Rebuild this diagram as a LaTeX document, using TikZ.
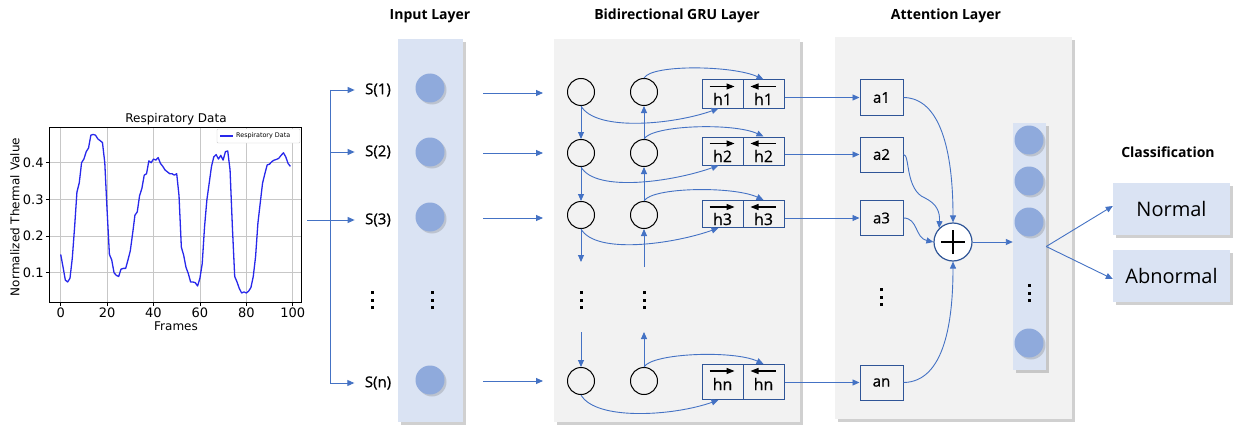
\documentclass[tikz,border=0pt]{standalone}
\usepackage{fontspec}
\setmainfont{Open Sans}
\newfontfamily\pltfont{DejaVu Sans}
\newfontfamily\medfont{Open Sans}[FakeBold=0.7]
\usetikzlibrary{arrows.meta,shadows,calc}
\definecolor{lblue}{RGB}{218,227,243}
\definecolor{dblue}{RGB}{143,170,220}
\definecolor{lnblue}{RGB}{68,114,196}
\definecolor{bxblue}{RGB}{47,85,151}
\definecolor{pgray}{RGB}{242,242,242}
\definecolor{pltblue}{RGB}{40,40,235}
\newcommand{\myvdots}{\vbox{\hrule width 3pt height 3pt\vskip 4.5pt\hrule width 3pt height 3pt\vskip 4.5pt\hrule width 3pt height 3pt}}
\tikzset{
  conn/.style={draw=lnblue, line width=0.9pt, -{Triangle[length=7pt,width=6pt]}},
  plainln/.style={draw=lnblue, line width=0.9pt},
  panel/.style={fill=#1, draw=none, inner sep=0pt,
    drop shadow={shadow xshift=3pt, shadow yshift=-3pt, opacity=0.3, fill=black!60}},
  dotc/.style={circle, fill=dblue, draw=none, minimum size=29pt, inner sep=0pt,
    drop shadow={shadow xshift=2pt, shadow yshift=-2pt, opacity=0.25, fill=black!60}},
  grucirc/.style={circle, draw=black, line width=1pt, fill=pgray, minimum size=27pt, inner sep=0pt},
  hbox/.style={draw=bxblue, line width=1pt, minimum width=41pt, minimum height=#1, inner sep=0pt},
  abox/.style={draw=bxblue, line width=1pt, minimum width=43pt, minimum height=35pt, inner sep=0pt,
    font=\medfont\fontsize{15}{17}\selectfont},
  htext/.style={inner sep=0pt, font=\medfont\fontsize{16}{18}\selectfont},
  harrow/.style={line width=1.1pt, -{Triangle[length=8pt,width=6pt]}},
  title/.style={font=\fontsize{14}{16}\selectfont\bfseries},
  slabel/.style={font=\medfont\fontsize{15}{17}\selectfont},
  vd/.style={inner sep=0pt},
  clsbox/.style={fill=lblue, minimum width=117pt, minimum height=52pt, inner sep=0pt,
    font=\fontsize{20}{22}\selectfont,
    drop shadow={shadow xshift=3pt, shadow yshift=-3pt, opacity=0.3, fill=black!60}},
  gridln/.style={draw=black!22, line width=0.8pt},
  pltlbl/.style={font=\pltfont\fontsize{13}{15}\selectfont, inner sep=2pt},
  plotline/.style={draw=pltblue, line width=1.3pt, line join=round},
  plusnode/.style={circle, draw=bxblue, line width=1.2pt, fill=white, minimum size=38pt, inner sep=0pt,
    path picture={
      \draw[black, line width=1.4pt]
        ([xshift=-12pt]path picture bounding box.center) -- ([xshift=12pt]path picture bounding box.center)
        ([yshift=-12pt]path picture bounding box.center) -- ([yshift=12pt]path picture bounding box.center);
    }},
}
\begin{document}
\begin{tikzpicture}[x=1pt, y=-1pt]
\useasboundingbox (0,0) rectangle (1235,428);
\fill[white] (0,0) rectangle (1235,428);

% ---------------- plot ----------------
\begin{scope}[x=2.32pt, y=367pt, shift={(60.7pt,-309.5pt)}]
  \foreach \f in {0,20,...,100} \draw[gridln] (\f,0.0204) -- (\f,0.497);
  \foreach \v in {0.1,0.2,0.3,0.4} \draw[gridln] (-4.7,\v) -- (103.9,\v);
  \draw[plotline] plot coordinates {(0,0.15) (1,0.116) (2,0.08) (3,0.075) (4,0.085) (5,0.14) (6,0.225) (7,0.32) (8,0.345) (9,0.4) (10,0.41) (11,0.43) (12,0.44) (13,0.475) (14,0.477) (15,0.475) (16,0.465) (17,0.46) (18,0.455) (19,0.40) (20,0.27) (21,0.15) (22,0.135) (23,0.10) (24,0.093) (25,0.09) (26,0.11) (27,0.112) (28,0.112) (29,0.135) (30,0.16) (31,0.207) (32,0.257) (33,0.266) (34,0.31) (35,0.33) (36,0.366) (37,0.37) (38,0.405) (39,0.40) (40,0.41) (41,0.407) (42,0.414) (43,0.398) (44,0.39) (45,0.38) (46,0.375) (47,0.37) (48,0.37) (49,0.366) (50,0.37) (51,0.31) (52,0.17) (53,0.148) (54,0.115) (55,0.098) (56,0.075) (57,0.075) (58,0.073) (59,0.064) (60,0.085) (61,0.125) (62,0.225) (63,0.298) (64,0.344) (65,0.39) (66,0.416) (67,0.422) (68,0.41) (69,0.42) (70,0.407) (71,0.43) (72,0.432) (73,0.38) (74,0.225) (75,0.09) (76,0.075) (77,0.057) (78,0.045) (79,0.048) (80,0.045) (81,0.05) (82,0.06) (83,0.09) (84,0.144) (85,0.235) (86,0.29) (87,0.344) (88,0.37) (89,0.394) (90,0.396) (91,0.403) (92,0.407) (93,0.409) (94,0.412) (95,0.42) (96,0.427) (97,0.416) (98,0.398) (99,0.39)};
  \draw[line width=0.9pt] (-4.7,0.0204) rectangle (103.9,0.497);
  \foreach \f in {0,20,...,100} {
    \draw[line width=0.8pt] (\f,0.0204) -- ++(0pt,-4pt);
    \node[pltlbl, anchor=north] (xt\f) at ([yshift=-4pt]\f,0.0204) {\f};
  }
  \foreach \v in {0.1,0.2,0.3,0.4} {
    \draw[line width=0.8pt] (-4.7,\v) -- ++(-4pt,0pt);
    \node[pltlbl, anchor=east] (yt\v) at ([xshift=-4pt]-4.7,\v) {\v};
  }
\end{scope}
\node[font=\pltfont\fontsize{12}{14}\selectfont] (ptitle) at (176,119) {Respiratory Data};
\node[font=\pltfont\fontsize{12}{14}\selectfont] (pxlab) at (176,326) {Frames};
\node[font=\pltfont\fontsize{12}{14}\selectfont, rotate=90] (pylab) at (15,217) {Normalized Thermal Value};
\draw[black!20, fill=white, rounded corners=1pt] (217,129) rectangle (300,143);
\draw[plotline] (220,136) -- (233,136);
\node[font=\pltfont\fontsize{6.4}{7}\selectfont, anchor=west, inner sep=0pt] (leg) at (236,136) {Respiratory Data};

% ---------------- titles ----------------
\node[title] (t1) at (430,16) {Input Layer};
\node[title] (t2) at (677,16) {Bidirectional GRU Layer};
\node[title] (t3) at (946,16) {Attention Layer};
\node[title] (t4) at (1168,152) {Classification};

% ---------------- panels ----------------
\node[panel=lblue, minimum width=65pt, minimum height=383pt] (inpanel) at (430.5,230.5) {};
\node[panel=pgray, minimum width=246pt, minimum height=383pt] (grupanel) at (677,230.5) {};
\node[panel=pgray, minimum width=237pt, minimum height=382pt] (attpanel) at (953.5,228) {};
\node[panel=lblue, minimum width=33pt, minimum height=247pt] (outpanel) at (1029.5,246.5) {};

% ---------------- input side ----------------
\node[slabel] (s1) at (378,90) {S(1)};
\node[slabel] (s2) at (378,152) {S(2)};
\node[slabel] (s3) at (378,220) {S(3)};
\node[slabel] (sn) at (378,383) {S(n)};
\node[vd] (sd) at (372,300) {\myvdots};
\coordinate (pj) at (307,220);
\coordinate (bj) at (330,220);
\draw[plainln] (pj) -- (bj);
\draw[plainln] (bj |- s1) -- (bj |- sn);
\foreach \r in {1,2,3,n} \draw[conn, shorten >=7pt] (bj |- s\r.west) -- (s\r.west);

\node[dotc] (i1) at (430,88) {};
\node[dotc] (i2) at (430,152) {};
\node[dotc] (i3) at (430,217) {};
\node[dotc] (in) at (430,380) {};
\node[vd] (id) at (432,300) {\myvdots};

\foreach \r/\y in {1/93,2/153,3/218,n/381} {
  \coordinate (ia\r) at (483,\y);
  \coordinate (ib\r) at (543,\y);
  \draw[conn] (ia\r) -- (ib\r);
}

% ---------------- GRU ----------------
\foreach \r/\y in {1/92,2/153,3/215,n/381} {
  \node[grucirc] (c\r1) at (581,\y) {};
  \node[grucirc] (c\r2) at (644,\y) {};
}
\foreach \r/\y/\hh/\dt in {1/94/28pt/5,2/151/28pt/5,3/214/27pt/5,n/382/35pt/2} {
  \node[hbox=\hh] (hf\r) at (722.5,\y) {};
  \node[hbox=\hh] (hb\r) at (763.5,\y) {};
  \node[htext] (hft\r) at ($(hf\r.center)+(0,\dt)$) {h\r};
  \node[htext] (hbt\r) at ($(hb\r.center)+(0,\dt)$) {h\r};
  \draw[harrow] ($(hf\r.north)+(-13,7)$) -- ($(hf\r.north)+(12,7)$);
  \draw[harrow] ($(hb\r.north)+(12,7)$) -- ($(hb\r.north)+(-13,7)$);
}
\node[vd] (gd1) at (581,300) {\myvdots};
\node[vd] (gd2) at (644,300) {\myvdots};
\coordinate (g1a) at (581,262);
\coordinate (g1b) at (581,332);
\coordinate (g2a) at (644,267);
\coordinate (g2b) at (644,332);
\draw[conn] (c11.south) -- (c21.north);
\draw[conn] (c21.south) -- (c31.north);
\draw[conn] (c31.south) -- (g1a);
\draw[conn] (g1b) -- (cn1.north);
\draw[conn] (c22.north) -- (c12.south);
\draw[conn] (c32.north) -- (c22.south);
\draw[conn] (g2a) -- (c32.south);
\draw[conn] (cn2.north) -- (g2b);
\foreach \r in {1,2,3,n} {
  \draw[conn] (c\r1.south) .. controls +(15,26) and +(-45,16) .. ([xshift=-4pt]hf\r.south);
  \draw[conn] (c\r2.north) .. controls +(8,-14) and +(-30,-14) .. (hb\r.north);
}

% ---------------- attention ----------------
\node[abox] (a1) at (881.5,97.5) {a1};
\node[abox] (a2) at (881.5,154.5) {a2};
\node[abox] (a3) at (881.5,218) {a3};
\node[abox] (an) at (881.5,382.5) {an};
\node[vd] (ad) at (881,297) {\myvdots};
\foreach \r in {1,2,3,n} \draw[conn] (hb\r.east |- a\r.west) -- (a\r.west);

\node[plusnode] (plus) at (953,242) {};
\draw[conn] (a1.east) .. controls (940,98) and (953,150) .. (plus.north);
\draw[conn] (a2.east) .. controls (910,154) and (905,190) .. (925,198)
            .. controls (937,204) and (940,212) .. (plus.north west);
\draw[conn] (a3.east) .. controls (918,218) and (915,238) .. (plus.west);
\draw[conn] (an.east) .. controls (945,382) and (953,320) .. (plus.south);

\draw[conn] (plus.east) -- (plus.east -| outpanel.west);
\node[dotc] (o1) at (1029,140) {};
\node[dotc] (o2) at (1029,181) {};
\node[dotc] (o3) at (1029,222) {};
\node[dotc] (on) at (1029,343) {};
\node[vd] (od) at (1029,293) {\myvdots};

% ---------------- classification ----------------
\node[clsbox] (normal) at (1171.5,209) {Normal};
\node[clsbox] (abnormal) at (1171.5,276) {Abnormal};
\draw[conn] (outpanel.east) -- ([yshift=3pt]normal.west);
\draw[conn] (outpanel.east) -- ([yshift=-3pt]abnormal.west);
\end{tikzpicture}
\end{document}
